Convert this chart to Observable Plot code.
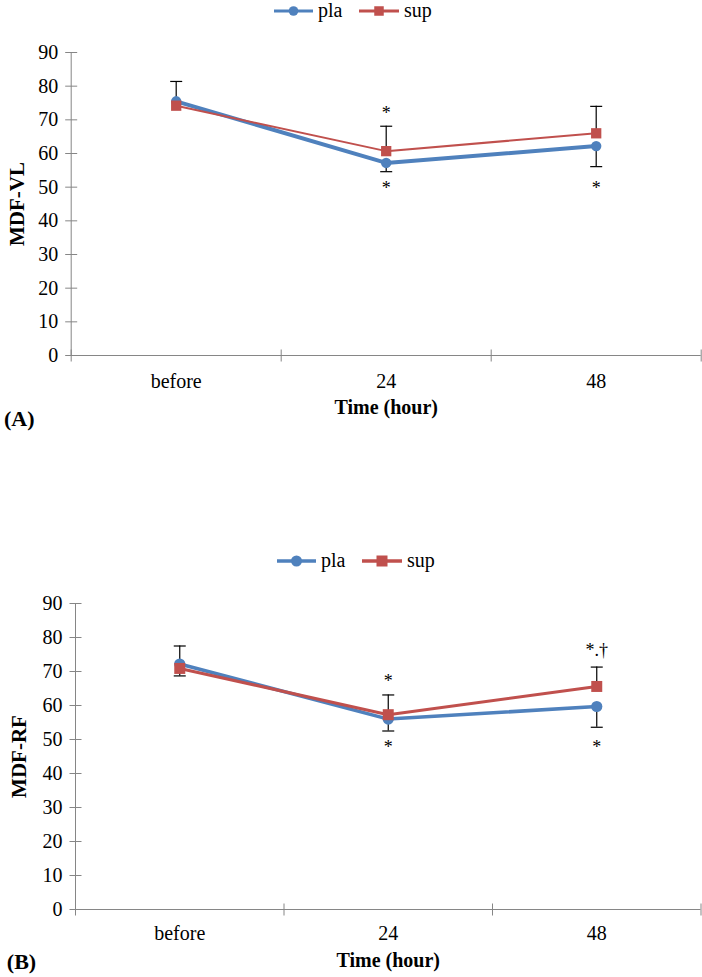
<!DOCTYPE html>
<html><head><meta charset="utf-8">
<script src="https://cdn.jsdelivr.net/npm/d3@7"></script>
<script src="https://cdn.jsdelivr.net/npm/@observablehq/plot@0.6"></script>
<style>
body{margin:0;background:#fff;}
#wrap{position:relative;width:702px;height:977px;font-family:"Liberation Serif","Times New Roman",serif;}
#wrap > svg{position:absolute;left:0;}
#wrap svg, #wrap svg text{font-family:"Liberation Serif","Times New Roman",serif !important;}
</style></head><body><div id="wrap"></div>
<script>
// ---- data ----
const categories = ["before", "24", "48"];
const seriesNames = ["pla", "sup"];
const yTicks = [0, 10, 20, 30, 40, 50, 60, 70, 80, 90];

// Panel A: MDF-VL
const plaA = [75.5, 57.2, 62.2];
const supA = [74.2, 60.7, 66.0];
const plaErrA = [null, 2.6, 6.1];   // drawn downward
const supErrA = [7.2, 7.4, 8.0];    // drawn upward
const annCatA = ["24", "24", "48"];
const annValA = [72.8, 50.5, 50.5];
const annTextA = ["*", "*", "*"];

// Panel B: MDF-RF
const plaB = [72.2, 56.0, 59.7];
const supB = [70.9, 57.3, 65.6];
const plaErrB = [3.5, 3.5, 6.1];
const supErrB = [6.6, 5.8, 5.7];
const annCatB = ["24", "24", "48", "48"];
const annValB = [68.0, 48.5, 77.1, 48.5];
const annTextB = ["*", "*", "*.\u2020", "*"];

// ---- styles ----
const BLUE = "#4F81BD", RED = "#C0504D", AXIS = "#868686";
const FONT = '"Liberation Serif","Times New Roman",serif';

const hTick = {draw(ctx){ ctx.moveTo(-6, 0); ctx.lineTo(6, 0); }};
const vTick = {draw(ctx){ ctx.moveTo(0, -6); ctx.lineTo(0, 6); }};

function panel(o) {
  const xi = c => categories.indexOf(c) + 0.5;
  const rows = (vals, errs) => categories.map((c, i) => ({x: i + 0.5, y: vals[i], e: errs[i]}));
  const pla = rows(o.pla, o.plaErr);
  const sup = rows(o.sup, o.supErr);
  const plaE = pla.filter(d => d.e != null);
  const supE = sup.filter(d => d.e != null);
  const ann = o.annCat.map((c, i) => ({x: xi(c), y: o.annVal[i], t: o.annText[i]}));
  return Plot.plot({
    width: 702, height: o.height,
    marginTop: o.mt, marginBottom: o.mb, marginLeft: o.ml, marginRight: o.mr,
    style: {fontFamily: FONT, fontSize: "20px", color: "#000", background: "transparent", overflow: "visible"},
    x: {type: "linear", domain: [0, 3]},
    y: {domain: [0, 90]},
    marks: [
      Plot.ruleX([0], {y1: 0, y2: 90, stroke: AXIS, strokeWidth: 1}),
      Plot.ruleY([0], {x1: 0, x2: 3, stroke: AXIS, strokeWidth: 1}),
      Plot.dot(yTicks, {y: d => d, frameAnchor: "left", symbol: hTick, stroke: AXIS, fill: "none", strokeWidth: 1}),
      Plot.dot([0, 1, 2, 3], {x: d => d, frameAnchor: "bottom", symbol: vTick, stroke: AXIS, fill: "none", strokeWidth: 1}),
      Plot.axisY(yTicks, {tickSize: 0, tickPadding: o.ytp, tickFormat: d => String(d), label: null, fontSize: 20, fontFamily: FONT}),
      Plot.axisX(categories.map((c, i) => i + 0.5), {tickSize: 0, tickPadding: o.xtp, tickFormat: d => categories[Math.floor(d)], label: null, fontSize: 20, fontFamily: FONT}),
      // error bars
      Plot.ruleX(supE, {x: "x", y1: "y", y2: d => d.y + d.e, stroke: "#000", strokeWidth: 1.2}),
      Plot.dot(supE, {x: "x", y: d => d.y + d.e, symbol: hTick, stroke: "#000", fill: "none", strokeWidth: 1.2}),
      Plot.ruleX(plaE, {x: "x", y1: "y", y2: d => d.y - d.e, stroke: "#000", strokeWidth: 1.2}),
      Plot.dot(plaE, {x: "x", y: d => d.y - d.e, symbol: hTick, stroke: "#000", fill: "none", strokeWidth: 1.2}),
      // series
      Plot.line(pla, {x: "x", y: "y", stroke: BLUE, strokeWidth: o.plaW}),
      Plot.dot(pla, {x: "x", y: "y", r: o.cr, fill: BLUE, symbol: "circle"}),
      Plot.line(sup, {x: "x", y: "y", stroke: RED, strokeWidth: o.supW}),
      Plot.dot(sup, {x: "x", y: "y", r: o.sr, fill: RED, symbol: "square"}),
      // significance marks
      Plot.text(ann, {x: "x", y: "y", text: "t", dy: 3, fontSize: 18, fontFamily: FONT, fill: "#000", textAnchor: "middle", lineAnchor: "middle"}),
      // titles
      Plot.text([o.ylabel], {frameAnchor: "left", dx: o.yldx, rotate: -90, fontWeight: "bold", fontSize: 21, fontFamily: FONT, textAnchor: "middle", lineAnchor: "middle"}),
      Plot.text(["Time (hour)"], {frameAnchor: "bottom", dy: o.xldy, fontWeight: "bold", fontSize: 20, fontFamily: FONT, textAnchor: "middle", lineAnchor: "middle"}),
      Plot.text([o.tag], {frameAnchor: "bottom-left", dx: o.tagdx, dy: o.tagdy, fontWeight: "bold", fontSize: 22, fontFamily: FONT, textAnchor: "middle", lineAnchor: "middle"})
    ]
  });
}

function legend(o) {
  const svg = d3.create("svg").attr("width", 702).attr("height", o.h)
    .style("top", o.top + "px").style("font-family", FONT);
  const cy = o.cy;
  svg.append("line").attr("x1", o.p[0]).attr("x2", o.p[1]).attr("y1", cy).attr("y2", cy).attr("stroke", BLUE).attr("stroke-width", o.w);
  svg.append("circle").attr("cx", (o.p[0] + o.p[1]) / 2).attr("cy", cy).attr("r", o.cr).attr("fill", BLUE);
  svg.append("text").attr("x", o.p[1] + 5).attr("y", cy).attr("dy", "0.32em").attr("font-size", 20).attr("font-family", FONT).text(seriesNames[0]);
  svg.append("line").attr("x1", o.s[0]).attr("x2", o.s[1]).attr("y1", cy).attr("y2", cy).attr("stroke", RED).attr("stroke-width", o.w);
  const sq = o.sq;
  svg.append("rect").attr("x", (o.s[0] + o.s[1]) / 2 - sq / 2).attr("y", cy - sq / 2).attr("width", sq).attr("height", sq).attr("fill", RED);
  svg.append("text").attr("x", o.s[1] + 5).attr("y", cy).attr("dy", "0.32em").attr("font-size", 20).attr("font-family", FONT).text(seriesNames[1]);
  return svg.node();
}

const wrap = document.getElementById("wrap");

wrap.appendChild(legend({top: 0, h: 24, cy: 11, p: [274, 313], s: [359, 399], w: 3, cr: 4.8, sq: 9.5}));
const A = panel({
  height: 416, mt: 28, mb: 85, ml: 70.7, mr: 1.3,
  pla: plaA, sup: supA, plaErr: plaErrA, supErr: supErrA,
  annCat: annCatA, annVal: annValA, annText: annTextA,
  plaW: 4, supW: 2, cr: 5.2, sr: 5.8,
  ytp: 13, xtp: 18, ylabel: "MDF-VL", yldx: -54, xldy: 52, tag: "(A)", tagdx: -52, tagdy: 63
});
A.style.top = "24px";
wrap.appendChild(A);

wrap.appendChild(legend({top: 548, h: 26, cy: 13, p: [277, 316], s: [362, 402], w: 3.5, cr: 5.5, sq: 11}));
const B = panel({
  height: 403, mt: 29, mb: 68, ml: 75, mr: 1.5,
  pla: plaB, sup: supB, plaErr: plaErrB, supErr: supErrB,
  annCat: annCatB, annVal: annValB, annText: annTextB,
  plaW: 3.5, supW: 3, cr: 5.6, sr: 6.2,
  ytp: 13, xtp: 16, ylabel: "MDF-RF", yldx: -56, xldy: 51, tag: "(B)", tagdx: -54, tagdy: 52
});
B.style.top = "574px";
wrap.appendChild(B);
</script>
</body></html>
